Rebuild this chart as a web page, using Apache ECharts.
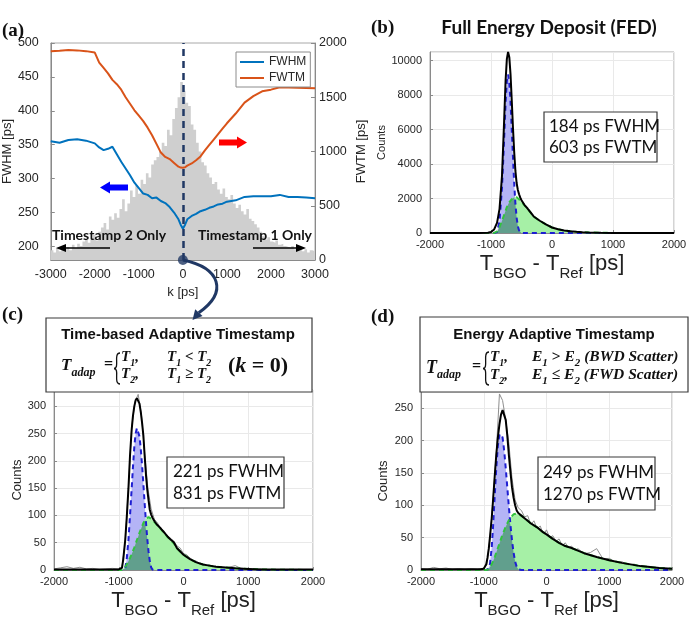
<!DOCTYPE html>
<html>
<head>
<meta charset="utf-8">
<script src="https://cdn.jsdelivr.net/npm/echarts@6/dist/echarts.min.js"></script>
<style>
  html, body { margin: 0; padding: 0; background: #fff; }
  #chart { width: 690px; height: 620px; }
</style>
</head>
<body>
<div id="chart"></div>
<script>
// ---- (a) k sweep ----
const kPts = [-3000,-2800,-2600,-2400,-2200,-2000,-1900,-1800,-1700,-1600,-1500,-1400,-1300,-1200,-1100,-1000,-900,-800,-700,-600,-500,-400,-300,-200,-100,-50,0,50,100,200,300,400,500,600,700,800,900,1000,1200,1400,1600,1800,2000,2200,2400,2600,2800,3000];
const fwhmVals = [355,353,357,358,356,352,346,342,344,347,336,325,315,305,294,286,278,276,271,272,267,264,258,250,240,232,226,232,240,245,248,252,254,257,259,262,263,266,268,273,274,274,274,276,273,273,272,271];
const fwtmVals = [1925,1928,1935,1932,1925,1912,1820,1770,1720,1660,1620,1570,1500,1440,1380,1330,1280,1220,1150,1070,990,950,930,895,860,852,850,855,870,890,920,955,1010,1060,1110,1160,1210,1260,1350,1450,1510,1555,1570,1592,1590,1588,1585,1582];
// T1-T2 histogram, 60 ps bins from -3000 to 3000
const kHist = [
  90,70,110,80,130,100,120,90,140,110,
  150,130,170,190,160,200,230,180,260,300,
  340,280,400,370,430,390,470,560,450,520,
  640,580,690,610,740,700,800,760,880,920,
  950,1000,1080,1050,1200,1150,1300,1400,1500,1640,
  1560,1450,1420,1250,1200,1080,1000,900,870,800,
  760,700,720,650,610,660,580,560,600,520,
  480,510,450,420,470,380,360,330,300,260,
  220,190,210,170,160,180,140,150,130,120,
  110,130,100,90,120,80,100,70,90,80
];
const fwhmTicks = [200, 250, 300, 350, 400, 450, 500];

// ---- (b) FED ----
const bX = [-2000,-1500,-1200,-1050,-1000,-950,-900,-860,-820,-790,-760,-740,-720,-700,-680,-660,-640,-620,-600,-580,-560,-540,-520,-500,-450,-400,-300,-200,-100,0,100,200,300,400,500,600,800,1000,1200,1500,2000];
const bFast = [0,0,0,0,0,0,50,700,2600,5000,7600,8800,9200,8700,7600,6000,4400,2900,1700,900,400,150,50,0,0,0,0,0,0,0,0,0,0,0,0,0,0,0,0,0,0];
const bSlow = [0,0,0,0,0,0,100,350,700,1000,1300,1500,1650,1780,1880,1960,2030,2070,2090,2080,2020,1950,1880,1800,1600,1420,950,700,500,320,220,150,100,70,45,30,14,6,2,1,0];
const bFit = [0,0,0,20,60,200,600,1400,3300,6000,8900,10100,10500,10200,9200,7700,6100,4700,3600,2900,2500,2250,2050,1900,1620,1420,960,710,500,320,220,150,100,70,45,30,14,6,2,0,0];

// ---- (c) time-based adaptive ----
const cX = [-2000,-1500,-1200,-1000,-950,-930,-900,-877,-850,-826,-800,-780,-760,-740,-720,-700,-680,-660,-640,-620,-600,-580,-560,-540,-520,-500,-480,-440,-400,-350,-300,-250,-200,-150,-100,-50,0,100,200,300,400,500,600,800,1000,1200,1500,2000];
const cFast = [0,0,0,0,0,0,3,20,55,100,150,190,225,250,260,258,245,222,192,158,122,88,58,34,16,5,1,0,0,0,0,0,0,0,0,0,0,0,0,0,0,0,0,0,0,0,0,0];
const cSlow = [0,0,0,0,0,2,6,10,16,22,29,35,41,48,55,61,68,74,80,86,90,94,96,97,96,94,92,87,81,75,68,61,55,49,40,34,28,20,14,10,8,6,5,3,2,1,0.5,0];
const cFit = [1,1,1,1,4,20,55,95,150,210,258,283,300,311,315,314,305,290,270,247,210,175,148,128,110,102,96,88,82,76,69,62,56,51,40,34,28,20,14,10,8,6,5,3,2,1,1,1];

// ---- (d) energy adaptive ----
const dX = [-2000,-1500,-1200,-1050,-1000,-980,-960,-940,-920,-900,-873,-850,-825,-800,-775,-750,-725,-700,-675,-650,-625,-600,-575,-550,-525,-500,-475,-450,-400,-350,-300,-250,-200,-150,-100,-50,0,100,200,300,400,500,600,800,1000,1200,1500,1800,2000];
const dFast = [0,0,0,0,0,0,0,0,2,10,35,70,115,158,192,210,213,205,185,158,128,98,70,46,27,13,5,1,0,0,0,0,0,0,0,0,0,0,0,0,0,0,0,0,0,0,0,0,0];
const dSlow = [0,0,0,0,0,0,0,0,1,4,9,14,20,27,34,41,48,55,61,67,72,77,81,84,86,87,87,86,84,80,76,72,69,66,62,58,55,48,42,37,34,30,26,20,15,11,6,3,2];
const dFit = [1,1,1,1,2,4,9,19,33,52,80,110,145,178,205,225,240,247,246,232,208,178,152,128,112,100,92,88,84,80,76,72,69,66,62,58,55,48,42,37,34,30,26,20,15,11,6,3,2];

// raw histograms (c), (d)
const rawX = [-2000,-1900,-1800,-1700,-1600,-1500,-1400,-1300,-1200,-1100,-1000,-950,-900,-850,-800,-750,-700,-650,-600,-550,-500,-450,-400,-350,-300,-250,-200,-150,-100,-50,0,50,100,150,200,250,300,350,400,450,500,600,700,800,900,1000,1100,1200,1300,1400,1500,1600,1700,1800,1900];
const cRaw = [2,4,6,3,5,2,3,1,2,3,2,5,52,152,262,308,322,285,214,150,112,93,86,75,72,60,58,53,44,40,30,28,22,18,16,12,11,8,9,6,7,4,5,8,2,3,1,2,1,0,1,0,1,0,1];
const dRaw = [2,1,4,2,3,1,2,1,2,1,3,8,50,112,182,272,262,232,196,142,108,96,92,82,84,70,76,64,68,55,62,50,53,44,48,38,42,34,37,29,33,25,27,33,17,18,12,13,8,9,5,5,3,3,2];

const SANS = '"Liberation Sans", Arial, sans-serif';
const NOTE = 'Lato, "Open Sans", sans-serif';
const SERIF = '"Liberation Serif", "Times New Roman", serif';
const AXIS = '#8a8a8a';
const LABEL = '#262626';
const GRIDLINE = '#e9e9e9';
const FAST_FILL = '#b4b4f6';
const SLOW_FILL = '#a6f0a6';
const BOTH_FILL = '#619f8d';
const plain = v => String(v);

const pairs = (xs, ys) => xs.map((x, i) => [x, ys[i]]);

const histData = kHist.map((v, i) => [-3000 + 60 * i, v]);
histData.push([3000, kHist[kHist.length - 1]]);

const tName = {
  t: { fontSize: 22, fontFamily: SANS, color: '#222', lineHeight: 26, padding: [0, 0, 6, 0], verticalAlign: 'bottom' },
  s: { fontSize: 15, fontFamily: SANS, color: '#222', lineHeight: 18, verticalAlign: 'bottom' }
};

function xAxisFit(gi) {
  return {
    gridIndex: gi, type: 'value', min: -2000, max: 2000, interval: 1000,
    axisLine: { show: true, onZero: false, lineStyle: { color: AXIS } },
    axisTick: { inside: true, length: 3, lineStyle: { color: AXIS } },
    axisLabel: { fontSize: 11, margin: 6, color: LABEL, fontFamily: SANS, formatter: plain },
    splitLine: { show: true, lineStyle: { color: GRIDLINE } },
    name: '{t|T}{s|BGO}{t| - T}{s|Ref}{t| [ps]}',
    nameLocation: 'middle', nameGap: 22,
    nameTextStyle: { rich: tName }
  };
}
function yAxisFit(gi, max, gap, size) {
  return {
    gridIndex: gi, type: 'value', min: 0, max: max, interval: max > 1000 ? 2000 : 50,
    axisLine: { show: true, onZero: false, lineStyle: { color: AXIS } },
    axisTick: { inside: true, length: 3, lineStyle: { color: AXIS } },
    axisLabel: { fontSize: 11, margin: 8, color: LABEL, fontFamily: SANS, showMaxLabel: false, formatter: plain },
    splitLine: { show: true, lineStyle: { color: GRIDLINE } },
    name: 'Counts', nameLocation: 'middle', nameGap: gap,
    nameTextStyle: { fontSize: size, color: LABEL, fontFamily: SANS }
  };
}

function fitSeries(p, xs, fast, slow, fit, rawX, raw) {
  const base = { type: 'line', xAxisIndex: p, yAxisIndex: p + 1, symbol: 'none', silent: true };
  const both = xs.map((x, i) => [x, Math.min(fast[i], slow[i])]);
  const list = [];
  if (raw) list.push({ ...base, data: pairs(rawX, raw), lineStyle: { color: '#8e8e8e', width: 1 }, z: 2 });
  list.push(
    { ...base, data: pairs(xs, fast), lineStyle: { width: 0 }, areaStyle: { color: FAST_FILL, opacity: 1 }, z: 3 },
    { ...base, data: pairs(xs, slow), lineStyle: { width: 0 }, areaStyle: { color: SLOW_FILL, opacity: 1 }, z: 3 },
    { ...base, data: both, lineStyle: { width: 0 }, areaStyle: { color: BOTH_FILL, opacity: 1 }, z: 3 },
    { ...base, data: pairs(xs, fast), lineStyle: { color: '#1e1ed2', width: 2, type: [5, 4] }, z: 4 },
    { ...base, data: pairs(xs, slow), lineStyle: { color: '#33c33f', width: 2, type: [5, 4] }, z: 4 },
    { ...base, data: pairs(xs, fit), lineStyle: { color: '#000', width: 2 }, z: 5 }
  );
  return list;
}

const gridBox = { show: true, borderColor: '#a8a8a8', borderWidth: 1 };

const chart = echarts.init(document.getElementById('chart'));

chart.setOption({
  animation: false,
  backgroundColor: '#fff',
  grid: [
    { left: 47, top: 43, width: 268, height: 217, ...gridBox },
    { left: 430, top: 52, width: 244, height: 181, ...gridBox },
    { left: 54, top: 390, width: 259, height: 180, ...gridBox },
    { left: 421, top: 392, width: 251, height: 178, ...gridBox }
  ],
  legend: {
    data: ['FWHM', 'FWTM'], left: 236, top: 52, orient: 'vertical',
    icon: 'rect', itemWidth: 24, itemHeight: 2, itemGap: 4, padding: [4, 4, 3, 4],
    borderColor: '#8c8c8c', borderWidth: 1, borderRadius: 0, backgroundColor: '#fff',
    textStyle: { fontSize: 12, color: LABEL, fontFamily: SANS }
  },
  xAxis: [
    {
      gridIndex: 0, type: 'value', min: -3000, max: 3000, interval: 1000,
      axisLine: { show: true, onZero: false, lineStyle: { color: AXIS } },
      axisTick: { inside: true, length: 4, lineStyle: { color: AXIS } },
      axisLabel: { fontSize: 12.5, margin: 8, color: LABEL, fontFamily: SANS, formatter: plain },
      splitLine: { show: false },
      name: 'k [ps]', nameLocation: 'middle', nameGap: 26,
      nameTextStyle: { fontSize: 13, color: LABEL, fontFamily: SANS }
    },
    xAxisFit(1), xAxisFit(2), xAxisFit(3)
  ],
  yAxis: [
    {
      gridIndex: 0, type: 'value', min: 180, max: 500,
      axisLine: { show: true, onZero: false, lineStyle: { color: AXIS } },
      axisTick: { inside: true, length: 4, lineStyle: { color: AXIS }, customValues: fwhmTicks },
      axisLabel: { fontSize: 12.5, margin: 12, color: LABEL, fontFamily: SANS, customValues: fwhmTicks },
      splitLine: { show: false },
      name: 'FWHM [ps]', nameLocation: 'middle', nameGap: 31,
      nameTextStyle: { fontSize: 13, color: LABEL, fontFamily: SANS }
    },
    {
      gridIndex: 0, type: 'value', position: 'right', min: 0, max: 2000, interval: 500,
      axisLine: { show: true, onZero: false, lineStyle: { color: AXIS } },
      axisTick: { inside: true, length: 4, lineStyle: { color: AXIS } },
      axisLabel: { fontSize: 12.5, margin: 4, color: LABEL, fontFamily: SANS, formatter: plain },
      splitLine: { show: false },
      name: 'FWTM [ps]', nameLocation: 'middle', nameGap: 40,
      nameTextStyle: { fontSize: 13, color: LABEL, fontFamily: SANS }
    },
    yAxisFit(1, 10500, 40, 11),
    yAxisFit(2, 330, 27, 13),
    yAxisFit(3, 275, 31, 13)
  ],
  series: [
    {
      name: 'k hist', type: 'line', xAxisIndex: 0, yAxisIndex: 1, step: 'end', symbol: 'none', silent: true,
      data: histData, lineStyle: { width: 0 }, areaStyle: { color: '#cfcfcf', opacity: 1 }, z: 1
    },
    {
      name: 'FWHM', type: 'line', xAxisIndex: 0, yAxisIndex: 0, symbol: 'none',
      data: pairs(kPts, fwhmVals), lineStyle: { color: '#0072BD', width: 2 }, itemStyle: { color: '#0072BD' }, z: 3,
      markLine: {
        silent: true, symbol: 'none', label: { show: false },
        lineStyle: { color: '#203864', type: [7, 5], width: 2.5 },
        data: [{ xAxis: 0 }]
      }
    },
    {
      name: 'FWTM', type: 'line', xAxisIndex: 0, yAxisIndex: 1, symbol: 'none',
      data: pairs(kPts, fwtmVals), lineStyle: { color: '#D95319', width: 2 }, itemStyle: { color: '#D95319' }, z: 3
    },
    {
      name: 'k0', type: 'scatter', xAxisIndex: 0, yAxisIndex: 0, data: [[0, 180]], symbolSize: 10,
      itemStyle: { color: '#203864' }, clip: false, silent: true, z: 6
    },
    ...fitSeries(1, bX, bFast, bSlow, bFit),
    ...fitSeries(2, cX, cFast, cSlow, cFit, rawX, cRaw),
    ...fitSeries(3, dX, dFast, dSlow, dFit, rawX, dRaw)
  ]
});

// ---- annotations ----
function txt(x, y, text, size, opt) {
  return {
    type: 'text', x: x, y: y, z: 100,
    style: Object.assign({ text: text, fontSize: size, fontFamily: NOTE, fill: '#111', textAlign: 'left', textVerticalAlign: 'middle', align: 'left', verticalAlign: 'middle' }, opt || {})
  };
}
function box(x, y, w, h) {
  return { type: 'rect', z: 99, shape: { x: x, y: y, width: w, height: h }, style: { fill: '#fff', stroke: '#3a3a3a', lineWidth: 1.2 } };
}
function eqRich(size) {
  const sub = Math.round(size * 0.68);
  return {
    i: { fontFamily: SERIF, fontStyle: 'italic', fontWeight: 'bold', fontSize: size, fill: '#111', lineHeight: size + 2, padding: [0, 0, 4, 0], verticalAlign: 'bottom' },
    n: { fontFamily: SERIF, fontWeight: 'bold', fontSize: size, fill: '#111', lineHeight: size + 2, padding: [0, 0, 4, 0], verticalAlign: 'bottom' },
    s: { fontFamily: SERIF, fontStyle: 'italic', fontWeight: 'bold', fontSize: sub, fill: '#111', lineHeight: sub + 2, verticalAlign: 'bottom' }
  };
}
function eq(x, y, text, size) {
  return txt(x, y, text, size, { rich: eqRich(size), fontFamily: SERIF });
}
// curly brace: tip at x, spanning y0..y1, built from two cubic curves
function brace(x, y0, y1) {
  const m = (y0 + y1) / 2, r = x + 6;
  const st = { stroke: '#111', lineWidth: 1.3, fill: null };
  return [
    { type: 'bezierCurve', z: 100, shape: { x1: r, y1: y0, cpx1: x - 1, cpy1: y0, cpx2: x + 6, cpy2: m, x2: x, y2: m }, style: st },
    { type: 'bezierCurve', z: 100, shape: { x1: x, y1: m, cpx1: x + 6, cpy1: m, cpx2: x - 1, cpy2: y1, x2: r, y2: y1 }, style: st }
  ];
}
function arrowLine(x1, x2, y) {
  const dir = x2 > x1 ? 1 : -1;
  return [
    { type: 'line', z: 100, shape: { x1: x1, y1: y, x2: x2 - dir * 6, y2: y }, style: { stroke: '#000', lineWidth: 1.5 } },
    { type: 'polygon', z: 100, shape: { points: [[x2, y], [x2 - dir * 10, y - 4], [x2 - dir * 10, y + 4]] }, style: { fill: '#000' } }
  ];
}
function fatArrow(tip, y, len, dir, color) {
  const hb = tip - dir * 10, tail = tip - dir * len;
  return {
    type: 'polygon', z: 100,
    shape: { points: [[tip, y], [hb, y - 6], [hb, y - 3], [tail, y - 3], [tail, y + 3], [hb, y + 3], [hb, y + 6]] },
    style: { fill: color }
  };
}

const dot = chart.convertToPixel({ xAxisIndex: 0, yAxisIndex: 0 }, [0, 180]);
const tip = [192.5, 320];

const elements = [
  // panel letters
  txt(2, 31, '(a)', 19, { fontFamily: SERIF, fontWeight: 'bold' }),
  txt(371, 28, '(b)', 19, { fontFamily: SERIF, fontWeight: 'bold' }),
  txt(2, 315, '(c)', 19, { fontFamily: SERIF, fontWeight: 'bold' }),
  txt(371, 317, '(d)', 19, { fontFamily: SERIF, fontWeight: 'bold' }),
  txt(549, 28, 'Full Energy Deposit (FED)', 19, { fontWeight: 'bold', textAlign: 'center', align: 'center' }),

  // (a) annotations
  txt(52, 235, 'Timestamp 2 Only', 14, { fontWeight: 'bold' }),
  txt(312, 235, 'Timestamp 1 Only', 14, { fontWeight: 'bold', textAlign: 'right', align: 'right' }),
  ...arrowLine(110, 56, 248),
  ...arrowLine(253, 306, 248),
  fatArrow(100, 187.5, 28, -1, '#0000ff'),
  fatArrow(247, 142.5, 28, 1, '#ff0000'),
  {
    type: 'bezierCurve', z: 100,
    shape: { x1: dot[0], y1: dot[1], cpx1: dot[0] + 38, cpy1: dot[1] + 8, cpx2: 228, cpy2: 292, x2: 198.8, y2: 312.7 },
    style: { stroke: '#203864', lineWidth: 3, fill: null }
  },
  { type: 'polygon', z: 100, shape: { points: [tip, [202.5, 316.1], [195.2, 309.3]] }, style: { fill: '#203864' } },

  // (b) result box
  box(544, 112, 113, 50),
  txt(549, 127, '184 ps FWHM', 17),
  txt(549, 148, '603 ps FWTM', 17),

  // (c) rule box
  box(46, 318, 266, 74),
  txt(178, 335, 'Time-based Adaptive Timestamp', 15, { fontFamily: SANS, fontWeight: 'bold', textAlign: 'center', align: 'center' }),
  eq(61, 369, '{i|T}{s|adap}', 17),
  eq(104, 368, '{n|=}', 16),
  ...brace(114, 353, 384),
  eq(121, 360, '{i|T}{s|1}{i|,}', 15),
  eq(121, 377, '{i|T}{s|2}{i|,}', 15),
  eq(167, 360, '{i|T}{s|1}{n| < }{i|T}{s|2}', 15),
  eq(167, 377, '{i|T}{s|1}{n| ≥ }{i|T}{s|2}', 15),
  eq(228, 369, '{n|(}{i|k}{n| = 0)}', 22),
  box(167, 457, 117, 51),
  txt(173, 472, '221 ps FWHM', 17),
  txt(173, 494, '831 ps FWTM', 17),

  // (d) rule box
  box(420, 317, 268, 75),
  txt(554, 335, 'Energy Adaptive Timestamp', 15, { fontFamily: SANS, fontWeight: 'bold', textAlign: 'center', align: 'center' }),
  eq(426, 371, '{i|T}{s|adap}', 18),
  eq(472, 370, '{n|=}', 16),
  ...brace(483, 352, 385),
  eq(490, 360, '{i|T}{s|1}{i|,}', 15),
  eq(490, 378, '{i|T}{s|2}{i|,}', 15),
  eq(532, 360, '{i|E}{s|1}{n| > }{i|E}{s|2}{i| (BWD Scatter)}', 15.5),
  eq(532, 378, '{i|E}{s|1}{n| ≤ }{i|E}{s|2}{i| (FWD Scatter)}', 15.5),
  box(538, 457, 117, 53),
  txt(543, 473, '249 ps FWHM', 17),
  txt(543, 495, '1270 ps FWTM', 17)
];

chart.setOption({ graphic: { elements: elements } });
</script>
</body>
</html>
